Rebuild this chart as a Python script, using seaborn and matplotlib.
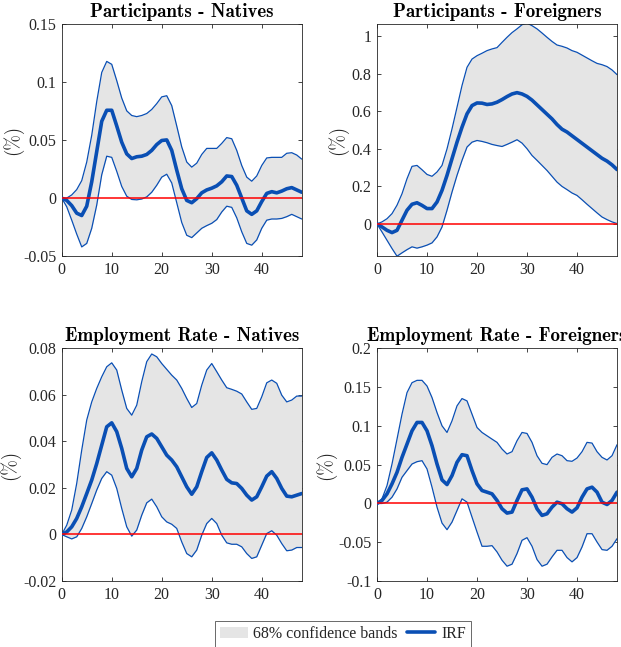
import os
import numpy as np
import pandas as pd
import matplotlib
matplotlib.use("Agg")
import matplotlib.pyplot as plt
from matplotlib.ticker import FuncFormatter, MultipleLocator
from matplotlib.patches import Patch
from matplotlib.lines import Line2D
from matplotlib.font_manager import FontProperties
import seaborn as sns

horizon = list(range(49))

titles = ["Participants - Natives", "Participants - Foreigners",
          "Employment Rate - Natives", "Employment Rate - Foreigners"]

part_nat_irf = [0, -0.002, -0.0065, -0.013, -0.015, -0.007, 0.014, 0.04, 0.066, 0.0755,
                0.0755, 0.062, 0.048, 0.038, 0.034, 0.0355, 0.036, 0.0375, 0.041, 0.046,
                0.0495, 0.05, 0.041, 0.024, 0.008, -0.002, -0.004, -0.0005, 0.0045, 0.007,
                0.0085, 0.0105, 0.014, 0.019, 0.0185, 0.011, 0.0, -0.011, -0.014, -0.011,
                -0.003, 0.004, 0.0055, 0.0045, 0.006, 0.008, 0.009, 0.007, 0.005]
part_nat_hi = [0, 0, 0.0027, 0.0073, 0.015, 0.031, 0.054, 0.083, 0.108, 0.1175,
               0.115, 0.101, 0.086, 0.075, 0.071, 0.070, 0.071, 0.0727, 0.0762, 0.0812,
               0.087, 0.088, 0.0795, 0.062, 0.044, 0.031, 0.0266, 0.030, 0.0375, 0.0427,
               0.0427, 0.0427, 0.047, 0.052, 0.051, 0.041, 0.028, 0.018, 0.0145, 0.019,
               0.028, 0.0345, 0.035, 0.035, 0.035, 0.0385, 0.039, 0.037, 0.0335]
part_nat_lo = [0, -0.0075, -0.019, -0.031, -0.042, -0.039, -0.026, -0.006, 0.02, 0.036,
               0.035, 0.023, 0.010, 0.0016, -0.0012, -0.0015, -0.0008, 0.001, 0.005, 0.011,
               0.018, 0.0205, 0.013, -0.004, -0.021, -0.032, -0.034, -0.030, -0.026, -0.0237,
               -0.0217, -0.0185, -0.012, -0.007, -0.008, -0.017, -0.029, -0.039, -0.0405, -0.036,
               -0.026, -0.019, -0.018, -0.018, -0.0175, -0.016, -0.014, -0.016, -0.018]

part_for_irf = [0, -0.016, -0.034, -0.046, -0.034, 0.02, 0.073, 0.105, 0.113, 0.099,
                0.082, 0.082, 0.117, 0.179, 0.259, 0.348, 0.436, 0.516, 0.587, 0.631,
                0.645, 0.644, 0.637, 0.64, 0.649, 0.663, 0.679, 0.693, 0.70, 0.693,
                0.68, 0.66, 0.635, 0.61, 0.585, 0.56, 0.53, 0.505, 0.49, 0.47,
                0.45, 0.43, 0.41, 0.39, 0.37, 0.35, 0.335, 0.315, 0.29]
part_for_hi = [0, 0.011, 0.028, 0.055, 0.1, 0.161, 0.241, 0.307, 0.312, 0.289,
               0.264, 0.254, 0.277, 0.312, 0.4, 0.507, 0.622, 0.738, 0.835, 0.879,
               0.897, 0.91, 0.924, 0.933, 0.94, 0.968, 0.995, 1.02, 1.04, 1.062,
               1.071, 1.057, 1.04, 1.018, 0.995, 0.973, 0.954, 0.947, 0.938, 0.924,
               0.915, 0.9, 0.885, 0.87, 0.856, 0.849, 0.839, 0.821, 0.796]
part_for_lo = [0, -0.043, -0.087, -0.131, -0.172, -0.154, -0.137, -0.122, -0.129, -0.122,
               -0.113, -0.101, -0.069, -0.016, 0.073, 0.17, 0.259, 0.339, 0.41, 0.436,
               0.445, 0.44, 0.433, 0.424, 0.418, 0.413, 0.424, 0.436, 0.449, 0.431,
               0.401, 0.365, 0.339, 0.312, 0.285, 0.254, 0.223, 0.2, 0.183, 0.165,
               0.152, 0.129, 0.105, 0.082, 0.059, 0.037, 0.023, 0.011, 0.002]

emp_nat_irf = [0, 0.0011, 0.0033, 0.0069, 0.0119, 0.0176, 0.0234, 0.0305, 0.0384, 0.0463,
               0.048, 0.0442, 0.037, 0.0284, 0.0248, 0.0284, 0.0363, 0.042, 0.0432, 0.0413,
               0.0377, 0.0341, 0.032, 0.0291, 0.0248, 0.0205, 0.0173, 0.0205, 0.027, 0.0331,
               0.0351, 0.032, 0.0277, 0.0237, 0.0222, 0.0219, 0.0198, 0.0169, 0.0148, 0.0162,
               0.0205, 0.0251, 0.027, 0.0241, 0.0198, 0.0165, 0.0162, 0.0169, 0.0176]
emp_nat_hi = [0, 0.004, 0.0105, 0.022, 0.0363, 0.0492, 0.057, 0.0628, 0.0678, 0.0721,
              0.0738, 0.0707, 0.0621, 0.0542, 0.0513, 0.0556, 0.0657, 0.0743, 0.0776, 0.0764,
              0.0735, 0.071, 0.0685, 0.0664, 0.0628, 0.0585, 0.0546, 0.0563, 0.0642, 0.0707,
              0.0735, 0.07, 0.0664, 0.0631, 0.0624, 0.0616, 0.0604, 0.057, 0.0538, 0.0542,
              0.0592, 0.0652, 0.0664, 0.065, 0.0599, 0.057, 0.0578, 0.0595, 0.0595]
emp_nat_lo = [0, -0.001, -0.0019, -0.001, 0.0026, 0.0076, 0.0133, 0.0191, 0.0241, 0.027,
              0.0255, 0.0198, 0.0112, 0.0033, -0.0007, 0.0019, 0.0083, 0.0136, 0.0152, 0.0119,
              0.0076, 0.0054, 0.0044, 0.0026, -0.0032, -0.0082, -0.0096, -0.0067, -0.0003, 0.0047,
              0.0069, 0.0047, -0.0003, -0.0036, -0.0042, -0.0042, -0.0053, -0.0082, -0.0103, -0.0096,
              -0.0046, 0.0004, 0.0016, -0.0003, -0.0039, -0.007, -0.0067, -0.0056, -0.0056]

emp_for_irf = [0, 0.0039, 0.0124, 0.0253, 0.0402, 0.0595, 0.0766, 0.0937, 0.1045, 0.1045,
               0.0937, 0.0745, 0.0509, 0.0304, 0.0244, 0.036, 0.0531, 0.0629, 0.0616, 0.0424,
               0.0253, 0.0167, 0.0146, 0.0124, 0.0039, -0.0068, -0.0124, -0.0111, 0.0039, 0.0176,
               0.0188, 0.0081, -0.0068, -0.0154, -0.0133, -0.0047, 0.0017, -0.0004, -0.0068, -0.0111,
               -0.0056, 0.0081, 0.0188, 0.021, 0.0146, 0.0017, -0.0013, 0.0039, 0.0146]
emp_for_hi = [0, 0.006, 0.0231, 0.0509, 0.083, 0.1152, 0.143, 0.1558, 0.1588, 0.1588,
              0.1515, 0.1366, 0.1173, 0.1002, 0.0916, 0.1066, 0.1259, 0.1353, 0.1323, 0.1152,
              0.098, 0.0916, 0.0873, 0.083, 0.0788, 0.0702, 0.0638, 0.0668, 0.0809, 0.0916,
              0.0903, 0.0788, 0.0616, 0.0518, 0.0501, 0.0595, 0.0638, 0.0616, 0.0552, 0.0544,
              0.0586, 0.0668, 0.0788, 0.0779, 0.0668, 0.0595, 0.0561, 0.0616, 0.0758]
emp_for_lo = [0, 0, 0.0017, 0.0081, 0.0188, 0.0338, 0.0424, 0.0509, 0.0539, 0.0552,
              0.0445, 0.021, -0.0047, -0.0253, -0.0338, -0.024, -0.009, 0.006, 0.0017, -0.0176,
              -0.0368, -0.0552, -0.0552, -0.0544, -0.0625, -0.0732, -0.0809, -0.0783, -0.0646, -0.0475,
              -0.0441, -0.0552, -0.0723, -0.0809, -0.0783, -0.0689, -0.0604, -0.0604, -0.0698, -0.0753,
              -0.0698, -0.0561, -0.039, -0.039, -0.0497, -0.0595, -0.0604, -0.0552, -0.0454]

panels = [
    (part_nat_irf, part_nat_lo, part_nat_hi),
    (part_for_irf, part_for_lo, part_for_hi),
    (emp_nat_irf, emp_nat_lo, emp_nat_hi),
    (emp_for_irf, emp_for_lo, emp_for_hi),
]
ylims = [(-0.05, 0.15), (-0.172, 1.068), (-0.02, 0.08), (-0.1, 0.2)]
ysteps = [0.05, 0.2, 0.02, 0.05]
ylabel_x = [-0.205, -0.1625, -0.215, -0.215]

sns.set_style("ticks")
plt.rcParams["font.family"] = ["Liberation Serif", "DejaVu Serif"]
plt.rcParams["axes.unicode_minus"] = False

fontdir = os.path.join(matplotlib.get_data_path(), "fonts", "ttf")
title_font = FontProperties(fname=os.path.join(fontdir, "cmb10.ttf"), size=13.7)
label_font = FontProperties(fname=os.path.join(fontdir, "cmr10.ttf"), size=13.5)

BLUE = "#0a4fb4"
BAND = "#e5e5e5"

fig = plt.figure(figsize=(6.21, 6.47), dpi=100)
W = 0.3865
H = 0.3595
positions = [(0.0994, 0.6040), (0.6071, 0.6040), (0.0994, 0.1020), (0.6071, 0.1020)]

fmt = FuncFormatter(lambda v, p: ("%g" % round(v, 6)))

for i, ((irf, lo, hi), (lx, by)) in enumerate(zip(panels, positions)):
    ax = fig.add_axes([lx, by, W, H])
    df = pd.DataFrame({"h": horizon, "irf": irf, "lo": lo, "hi": hi})
    ax.fill_between(df["h"], df["lo"], df["hi"], color=BAND, linewidth=0, zorder=1)
    sns.lineplot(data=df, x="h", y="hi", ax=ax, color=BLUE, linewidth=0.9, zorder=2)
    sns.lineplot(data=df, x="h", y="lo", ax=ax, color=BLUE, linewidth=0.9, zorder=2)
    sns.lineplot(data=df, x="h", y="irf", ax=ax, color=BLUE, linewidth=2.6, zorder=3)
    ax.axhline(0, color="#ff0000", linewidth=1.1, zorder=4)
    ax.set_xlim(0, 48)
    ax.set_ylim(*ylims[i])
    ax.xaxis.set_major_locator(MultipleLocator(10))
    ax.yaxis.set_major_locator(MultipleLocator(ysteps[i]))
    ax.yaxis.set_major_formatter(fmt)
    ax.xaxis.set_major_formatter(fmt)
    ax.set_xlabel("")
    ax.set_ylabel("(%)", fontproperties=label_font, color="#262626")
    ax.yaxis.label.set_verticalalignment("center")
    ax.yaxis.set_label_coords(ylabel_x[i], 0.5)
    ax.set_title(titles[i], fontproperties=title_font, pad=5, color="black")
    ax.tick_params(direction="in", length=3, width=0.6, top=True, right=True,
                   labelsize=11.5, colors="#262626", pad=4)
    for s in ax.spines.values():
        s.set_visible(True)
        s.set_linewidth(0.6)
        s.set_color("#262626")

handles = [Patch(facecolor=BAND, edgecolor="none"),
           Line2D([0], [0], color=BLUE, linewidth=2.6)]
leg = fig.legend(handles, ["68% confidence bands", "IRF"], loc="center",
                 bbox_to_anchor=(0.552, 0.0201), ncol=2, frameon=True, fancybox=False,
                 fontsize=11.5, handlelength=1.75, handletextpad=0.35, columnspacing=0.6,
                 borderpad=0.3, borderaxespad=0)
leg.get_frame().set_edgecolor("#262626")
leg.get_frame().set_linewidth(0.6)

fig.savefig("out.png", dpi=100)
